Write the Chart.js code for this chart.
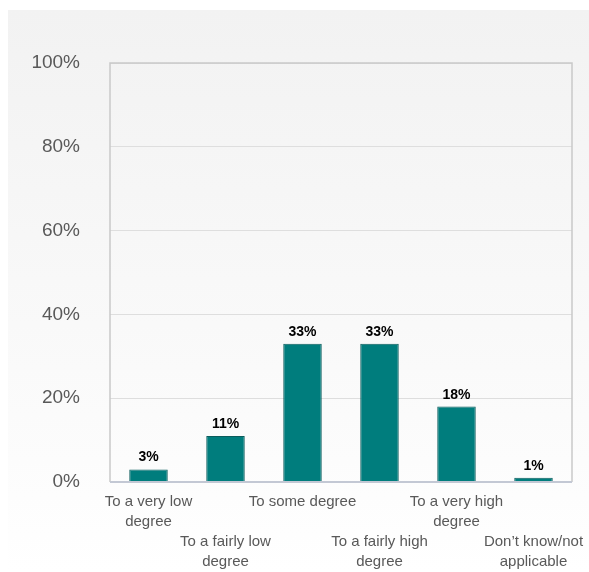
<!DOCTYPE html>
<html>
<head>
<meta charset="utf-8">
<script src="https://cdn.jsdelivr.net/npm/chart.js@4/dist/chart.umd.min.js"></script>
<style>
  html, body { margin: 0; padding: 0; background: #ffffff; }
  #wrap { width: 589px; height: 572px; position: relative; }
</style>
</head>
<body>
<div id="wrap"><canvas id="c" width="589" height="572"></canvas></div>
<script>
const categories = [
  ["To a very low", "degree"],
  ["", "", "To a fairly low", "degree"],
  ["To some degree"],
  ["", "", "To a fairly high", "degree"],
  ["To a very high", "degree"],
  ["", "", "Don\u2019t know/not", "applicable"]
];
const values = [3, 11, 33, 33, 18, 1];
const yTicks = [0, 20, 40, 60, 80, 100];

const FONT = "'Liberation Sans', Arial, Helvetica, sans-serif";

const bgPlugin = {
  id: 'bgPanel',
  beforeDraw(chart) {
    const ctx = chart.ctx;
    ctx.save();
    const g = ctx.createLinearGradient(0, 10, 0, 572);
    g.addColorStop(0, '#f2f2f2');
    g.addColorStop(0.8, '#fcfcfc');
    g.addColorStop(1, '#ffffff');
    ctx.fillStyle = g;
    ctx.fillRect(8, 10, 581, 562);
    ctx.restore();
  },
  afterDatasetsDraw(chart) {
    const ctx = chart.ctx;
    const a = chart.chartArea;
    ctx.save();
    ctx.strokeStyle = '#c9c9c9';
    ctx.lineWidth = 1.5;
    ctx.beginPath();
    ctx.moveTo(a.left, a.bottom);
    ctx.lineTo(a.left, a.top);
    ctx.lineTo(a.right, a.top);
    ctx.lineTo(a.right, a.bottom);
    ctx.stroke();
    ctx.strokeStyle = '#c3c8d4';
    ctx.lineWidth = 2;
    ctx.beginPath();
    ctx.moveTo(a.left, a.bottom);
    ctx.lineTo(a.right, a.bottom);
    ctx.stroke();
    // data labels
    const meta = chart.getDatasetMeta(0);
    ctx.fillStyle = '#000000';
    ctx.font = "bold 14px " + FONT;
    ctx.textAlign = 'center';
    ctx.textBaseline = 'alphabetic';
    meta.data.forEach((bar, i) => {
      ctx.fillText(values[i] + '%', bar.x, bar.y - 8);
    });
    ctx.restore();
  }
};

new Chart(document.getElementById('c'), {
  type: 'bar',
  data: {
    labels: categories,
    datasets: [{
      data: values,
      backgroundColor: '#007d7d',
      borderColor: '#0b5c5c',
      borderWidth: 1,
      barPercentage: 0.5,
      categoryPercentage: 1.0
    }]
  },
  options: {
    responsive: false,
    animation: false,
    devicePixelRatio: 1,
    layout: { padding: { left: 0, right: 17, top: 63, bottom: 0 } },
    plugins: { legend: { display: false }, tooltip: { enabled: false }, title: { display: false } },
    scales: {
      x: {
        offset: true,
        grid: { display: false, drawTicks: false },
        border: { display: false },
        ticks: {
          autoSkip: false,
          maxRotation: 0,
          minRotation: 0,
          padding: 10,
          color: '#595959',
          font: { family: FONT, size: 15, lineHeight: 1.33 }
        },
        afterFit(scale) { scale.height = 90; scale.paddingLeft = 0; scale.paddingRight = 0; }
      },
      y: {
        min: 0,
        max: 100,
        afterBuildTicks(scale) { scale.ticks = yTicks.map(v => ({ value: v })); },
        grid: { color: '#dedede', lineWidth: 1, drawTicks: false },
        border: { display: false },
        ticks: {
          padding: 30,
          color: '#595959',
          font: { family: FONT, size: 19 },
          callback: (v) => v + '%'
        },
        afterFit(scale) { scale.width = 110; }
      }
    }
  },
  plugins: [bgPlugin]
});
</script>
</body>
</html>
